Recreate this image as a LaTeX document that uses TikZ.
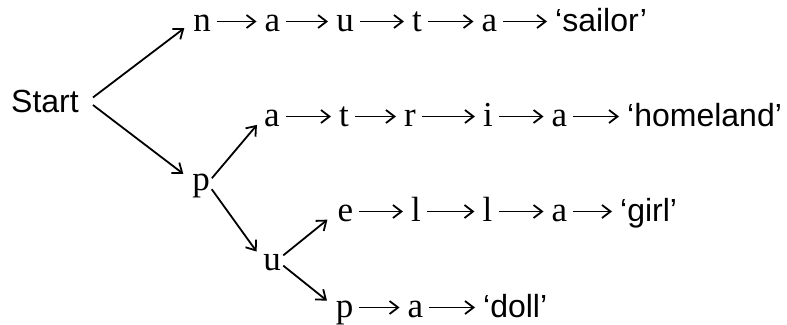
\documentclass[tikz,border=0pt]{standalone}
\usepackage{fontspec}
\setmainfont{Liberation Serif}
\newfontfamily\glossfont{Liberation Sans}
\usetikzlibrary{arrows.meta}
\tikzset{
  seg/.style   ={font=\fontsize{35}{40}\selectfont, inner sep=0pt,
                 text height=19pt, text depth=0pt, anchor=base},
  gloss/.style ={font=\glossfont\fontsize{32}{38}\selectfont, inner sep=0pt,
                 text height=19pt, text depth=0pt, anchor=base west},
  link/.style  ={-{Straight Barb[length=8.5pt,width=13pt]}, line width=1.8pt,
                 shorten <=6pt, shorten >=8pt},
  branch/.style={-{Straight Barb[length=8.5pt,width=13pt]}, line width=1.8pt,
                 shorten <=3pt, shorten >=11pt},
}

\begin{document}
\begin{tikzpicture}[x=1pt, y=-1pt]
  \useasboundingbox (0,0) rectangle (787,324);

  \node[seg, font=\glossfont\fontsize{32}{38}\selectfont, inner xsep=14pt] (start) at (45,112) {Start};
  \node[seg] (p) at (201,190) {p};
  \node[seg] (u) at (272,270) {u};

  % nauta
  \node[seg] (r1n)  at (202,31) {n};
  \node[seg] (r1a)  at (272.5,31) {a};
  \node[seg] (r1u)  at (345,31) {u};
  \node[seg] (r1t)  at (417,31) {t};
  \node[seg] (r1a2) at (489.5,31) {a};
  \node[gloss] (sailor) at (555,31) {‘sailor’};

  % patria
  \node[seg] (r2a)  at (272,126) {a};
  \node[seg] (r2t)  at (344,126) {t};
  \node[seg] (r2r)  at (410,126) {r};
  \node[seg] (r2i)  at (488,126) {i};
  \node[seg] (r2a2) at (559.5,126) {a};
  \node[gloss] (homeland) at (627,126) {‘homeland’};

  % puella
  \node[seg] (r3e)  at (345.5,221) {e};
  \node[seg] (r3l)  at (416,221) {l};
  \node[seg] (r3l2) at (487.5,221) {l};
  \node[seg] (r3a)  at (559.5,221) {a};
  \node[gloss] (girl) at (620,221) {‘girl’};

  % pupa
  \node[seg] (r4p)  at (344.5,317) {p};
  \node[seg] (r4a)  at (415.5,317) {a};
  \node[gloss] (doll) at (483,317) {‘doll’};

  \draw[branch, shorten <=0pt] (start.6) -- (r1n.west);
  \draw[branch, shorten <=0pt] (start.-3) -- (p.west);
  \draw[branch] (p.east) -- (r2a.west);
  \draw[branch] (p.-35) -- (u.west);
  \draw[branch, shorten >=13pt] (u.20) -- (r3e.west);
  \draw[branch] (u.-20) -- (r4p.west);

  \draw[link] (r1n) -- (r1a);
  \draw[link] (r1a) -- (r1u);
  \draw[link] (r1u) -- (r1t);
  \draw[link] (r1t) -- (r1a2);
  \draw[link] (r1a2) -- (sailor);

  \draw[link] (r2a) -- (r2t);
  \draw[link] (r2t) -- (r2r);
  \draw[link] (r2r) -- (r2i);
  \draw[link] (r2i) -- (r2a2);
  \draw[link] (r2a2) -- (homeland);

  \draw[link] (r3e) -- (r3l);
  \draw[link] (r3l) -- (r3l2);
  \draw[link] (r3l2) -- (r3a);
  \draw[link] (r3a) -- (girl);

  \draw[link] (r4p) -- (r4a);
  \draw[link] (r4a) -- (doll);
\end{tikzpicture}
\end{document}
